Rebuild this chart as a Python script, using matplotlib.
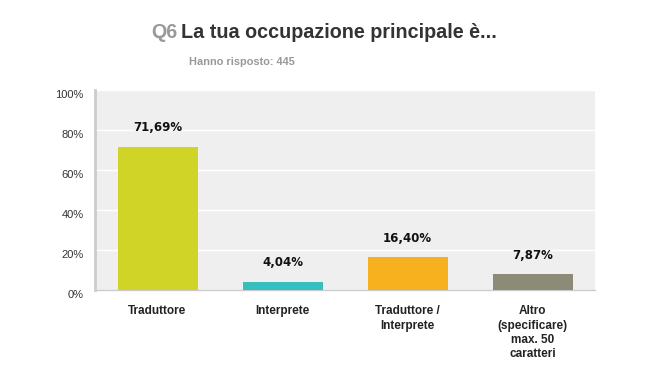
import matplotlib
matplotlib.use("Agg")
import matplotlib.pyplot as plt

categories = ["Traduttore", "Interprete", "Traduttore /\nInterprete", "Altro\n(specificare)\nmax. 50\ncaratteri"]
values = [71.69, 4.04, 16.40, 7.87]
value_labels = ["71,69%", "4,04%", "16,40%", "7,87%"]
colors = ["#D0D426", "#36BFBF", "#F7B11E", "#8B8B78"]
yticks = [0, 20, 40, 60, 80, 100]
ytick_labels = ["0%", "20%", "40%", "60%", "80%", "100%"]

fig = plt.figure(figsize=(6.5, 3.75), dpi=100)
ax = fig.add_axes([95/650, 1-290/375, 500/650, 200/375])
ax.set_facecolor("#EFEFEF")
x = list(range(len(categories)))
ax.bar(x, values, width=0.64, color=colors, zorder=3)
ax.set_xlim(-0.5, len(categories)-0.5)
ax.set_ylim(0, 100)
ax.set_yticks(yticks)
ax.set_yticklabels(ytick_labels, fontsize=8, color="#333333", family="Liberation Sans")
for lbl in ax.get_yticklabels():
    lbl.set_verticalalignment("top")
ax.tick_params(axis="y", length=0, pad=8)
ax.grid(axis="y", color="white", linewidth=1, zorder=1)
ax.set_xticks(x)
ax.set_xticklabels(categories, fontsize=8.5, fontweight="bold", color="#222222",
                   family="Liberation Sans", linespacing=1.25)
ax.tick_params(axis="x", length=0, pad=11)
for s in ["top", "right"]:
    ax.spines[s].set_visible(False)
ax.spines["left"].set_color("#CCCCCC")
ax.spines["left"].set_linewidth(2)
ax.spines["bottom"].set_color("#CCCCCC")
ax.spines["bottom"].set_linewidth(1)

for xi, v, t in zip(x, values, value_labels):
    ax.annotate(t, (xi, v), xytext=(0, 9), textcoords="offset points",
                ha="center", va="bottom", fontsize=8.5, fontweight="bold", color="#111111",
                family="DejaVu Sans")

t1 = fig.text(151/650, 1-32/375, "Q6", ha="left", va="center", fontsize=14.2, fontweight="bold",
              color="#999999", family="Liberation Sans")
fig.canvas.draw()
bb = t1.get_window_extent()
fig.text((bb.x1 + 4)/650, 1-32/375, "La tua occupazione principale è...", ha="left", va="center",
         fontsize=14.2, fontweight="bold", color="#333333", family="Liberation Sans")
fig.text(189/650, 1-62/375, "Hanno risposto: 445", ha="left", va="center", fontsize=7.9,
         fontweight="bold", color="#999999", family="Liberation Sans")

fig.savefig("out.png", dpi=100, facecolor="white")
